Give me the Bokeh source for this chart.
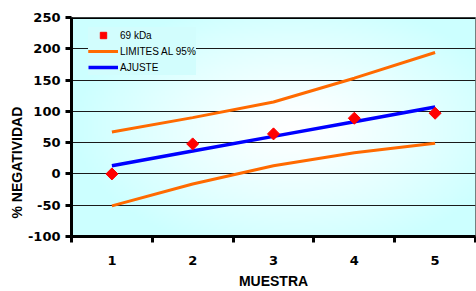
import numpy as np
from bokeh.plotting import figure
from bokeh.models import Range1d, FixedTicker, Legend, LegendItem, Span, Title
from bokeh.embed import file_html
from bokeh.resources import INLINE

# ---- data ----
muestra = [1, 2, 3, 4, 5]
kda69 = [0, 48, 64, 89, 97]
ajuste = [13, 36.5, 60, 83.5, 107]
lim_sup = [67, 90, 115, 153, 194]
lim_inf = [-51, -16, 13, 34, 49]
y_ticks = [-100, -50, 0, 50, 100, 150, 200, 250]
x_min, x_max = 0.5, 5.5

ORANGE = "#FF6A00"
BLUE = "#0000FF"
RED = "#FF0000"

p = figure(width=476, height=291, output_backend="svg", toolbar_location=None,
           x_range=Range1d(x_min, x_max), y_range=Range1d(y_ticks[0], y_ticks[-1]),
           min_border_left=71, min_border_right=1, min_border_top=17, min_border_bottom=0,
           background_fill_color="#ccffff", border_fill_color="white")

# background gradient (cyan edges -> white centre)
ny, nx = 120, 200
u = np.linspace(0, 1, nx)[None, :]
v = np.linspace(0, 1, ny)[:, None]
d = np.clip(np.sqrt(((u - 0.55) / 0.55) ** 2 + ((v - 0.5) / 0.6) ** 2), 0, 1)
t = d ** 1.2
img = np.empty((ny, nx), dtype=np.uint32)
view = img.view(dtype=np.uint8).reshape((ny, nx, 4))
view[..., 0] = (255 + (204 - 255) * t).astype(np.uint8)
view[..., 1] = 255
view[..., 2] = 255
view[..., 3] = 255
p.image_rgba(image=[img], x=x_min, y=y_ticks[0], dw=x_max - x_min,
             dh=y_ticks[-1] - y_ticks[0], level="image")

# grid
p.xgrid.visible = False
p.ygrid.ticker = FixedTicker(ticks=y_ticks)
p.ygrid.grid_line_color = "#1a1a1a"
p.ygrid.grid_line_width = 1

# series
r_sup = p.line(muestra, lim_sup, line_color=ORANGE, line_width=3)
r_inf = p.line(muestra, lim_inf, line_color=ORANGE, line_width=3)
r_aj = p.line(muestra, ajuste, line_color=BLUE, line_width=3.5)
r_pts = p.scatter(muestra, kda69, marker="square", angle=np.pi / 4, size=8.5,
                  fill_color=RED, line_color=RED)

# top border
p.add_layout(Span(location=y_ticks[-1], dimension="width", line_color="black", line_width=3))
p.outline_line_color = "#555555"
p.outline_line_width = 1

# x axis
xa = p.xaxis[0]
xa.ticker = FixedTicker(ticks=muestra, minor_ticks=[m - 0.5 for m in muestra] + [muestra[-1] + 0.5])
xa.major_tick_out = 0
xa.major_tick_in = 0
xa.minor_tick_out = 6
xa.minor_tick_in = 0
xa.minor_tick_line_width = 3
xa.minor_tick_line_color = "black"
xa.axis_line_width = 3
xa.axis_line_color = "black"
xa.major_label_standoff = 13
xa.major_label_text_font = "DejaVu Sans"
xa.major_label_text_font_style = "bold"
xa.major_label_text_font_size = "13px"
xa.major_label_text_color = "black"
xa.axis_label = "MUESTRA"
xa.axis_label_standoff = 5
xa.axis_label_text_font = "Liberation Sans"
xa.axis_label_text_font_style = "bold"
xa.axis_label_text_font_size = "14px"
xa.axis_label_text_color = "black"

# y axis
ya = p.yaxis[0]
ya.ticker = FixedTicker(ticks=y_ticks)
ya.major_label_overrides = {t: str(t) for t in y_ticks}
ya.major_tick_out = 6
ya.major_tick_in = 0
ya.minor_tick_out = 0
ya.minor_tick_in = 0
ya.major_tick_line_width = 3
ya.major_tick_line_color = "black"
ya.axis_line_width = 3
ya.axis_line_color = "black"
ya.major_label_standoff = 5
ya.major_label_text_font = "DejaVu Sans"
ya.major_label_text_font_style = "bold"
ya.major_label_text_font_size = "13px"
ya.major_label_text_color = "black"

p.add_layout(Title(text="% NEGATIVIDAD", align="left", offset=18, standoff=0,
                   vertical_align="bottom",
                   text_font="Liberation Sans", text_font_style="bold",
                   text_font_size="14px", text_color="black"), "left")

legend = Legend(items=[LegendItem(label="69 kDa", renderers=[r_pts]),
                       LegendItem(label="LIMITES AL 95%", renderers=[r_sup, r_inf]),
                       LegendItem(label="AJUSTE", renderers=[r_aj])],
                location=(17, 161), padding=0, margin=0, spacing=0,
                glyph_width=30, glyph_height=16, label_height=16, label_standoff=2,
                label_text_font="Liberation Sans", label_text_font_size="10px",
                label_text_color="black", border_line_color=None,
                background_fill_color="#d2fdfd", background_fill_alpha=1)
p.add_layout(legend)

open("out.html", "w").write(file_html(p, INLINE))
